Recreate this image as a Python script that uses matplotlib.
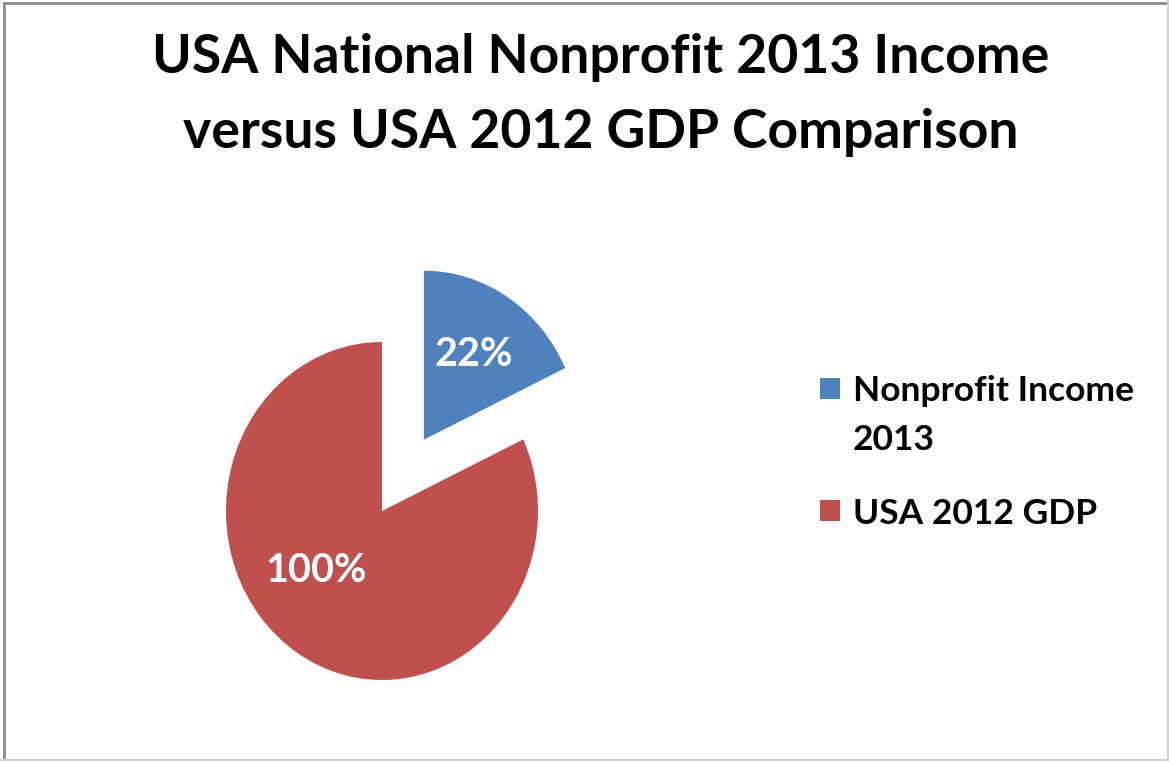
import matplotlib.pyplot as plt
from matplotlib.patches import Rectangle
from matplotlib.lines import Line2D

labels = ["Nonprofit Income\n2013", "USA 2012 GDP"]
values = [22, 100]
colors = ["#4F81BD", "#C0504D"]
explode = [0.5, 0.0]
title_lines = ["USA National Nonprofit 2013 Income", "versus USA 2012 GDP Comparison"]

plt.rcParams['font.family'] = ['Lato', 'DejaVu Sans']

W, H = 1169, 761
fig = plt.figure(figsize=(W / 100, H / 100), dpi=100)


def fx(px):
    return px / W


def fy(py):
    return 1 - py / H


# pie centre (382, 511) px, radius 156 x 169 px (reference is a bit stretched)
cx, cy, rx, ry, lim = 382, 511, 156, 169, 1.6
ax = fig.add_axes([fx(cx - lim * rx), fy(cy + lim * ry), 2 * lim * rx / W, 2 * lim * ry / H])

total = sum(values)
wedges, texts, autotexts = ax.pie(values, colors=colors, explode=explode,
                                  startangle=90, counterclock=False,
                                  autopct=lambda p: f"{p * total / 100:.0f}%",
                                  pctdistance=0.6,
                                  textprops=dict(color="white", fontsize=28.5, fontweight="bold"))
ax.set_aspect('auto')
ax.set_xlim(-lim, lim)
ax.set_ylim(-lim, lim)
autotexts[1].set_position((-0.42, -0.35))

# title, two lines
for line, base in zip(title_lines, [73, 148]):
    fig.text(fx(601), fy(base), line, ha="center", va="baseline",
             fontsize=38.5, fontweight="bold")

# legend drawn by hand so the square sits on the first text line
leg_top = [377.5, 499.5]
for lab, col, top in zip(labels, colors, leg_top):
    fig.add_artist(Rectangle((fx(820), fy(top + 21)), 20 / W, 21 / H,
                             transform=fig.transFigure, facecolor=col, edgecolor="none"))
    for i, part in enumerate(lab.split("\n")):
        fig.text(fx(853), fy(top + 24 + 49 * i), part, ha="left", va="baseline",
                 fontsize=25.5, fontweight="bold")

# outer border
fig.add_artist(Line2D([fx(3.5), fx(3.5)], [0, fy(2.5)], color="#8c8c8c", lw=2.0))
fig.add_artist(Line2D([fx(3.5), 1], [fy(2.5), fy(2.5)], color="#8c8c8c", lw=2.0))
fig.add_artist(Line2D([fx(W - 1.5), fx(W - 1.5)], [0, 1], color="#d0d0d0", lw=1.5))
fig.add_artist(Line2D([0, 1], [fy(H - 1.5), fy(H - 1.5)], color="#d0d0d0", lw=1.5))

fig.savefig("out.png", dpi=100)
